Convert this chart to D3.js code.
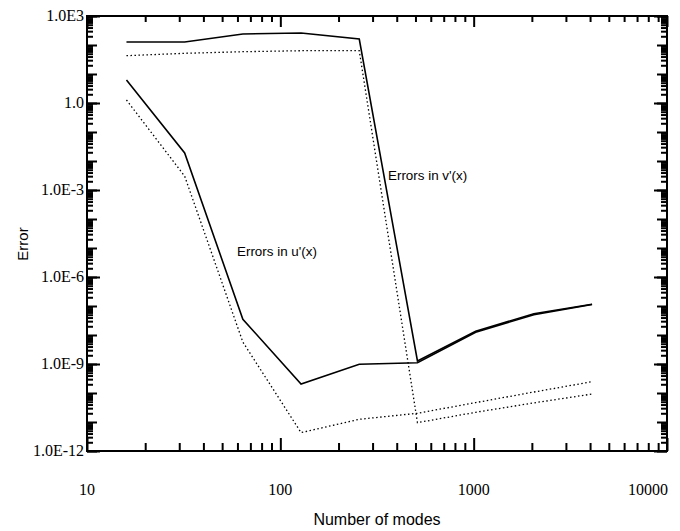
<!DOCTYPE html>
<html><head><meta charset="utf-8">
<script src="https://cdn.jsdelivr.net/npm/d3@7/dist/d3.min.js"></script>
<style>body{margin:0;background:#fff}</style>
</head><body>
<div id="chart"></div>
<script>
const modes = [16, 32, 64, 128, 256, 512, 1024, 2048, 4096];
const vSolid  = [127, 127, 240, 260, 161, 1.27e-9, 1.35e-8, 5.4e-8, 1.15e-7];
const vDotted = [42.8, 51.7, 58.7, 63.5, 63.5, 9.5e-12, 2.16e-11, 4.56e-11, 9.2e-11];
const uSolid  = [6.2, 0.0189, 3.5e-8, 2.04e-10, 9.8e-10, 1.1e-9, 1.25e-8, 5.0e-8, 1.13e-7];
const uDotted = [1.27, 0.003, 5.7e-9, 4.3e-12, 1.24e-11, 2.0e-11, 4.67e-11, 1.08e-10, 2.45e-10];
const xTickVals = [10, 100, 1000, 10000];
const xTickLabels = ["10", "100", "1000", "10000"];
const yTickVals = [1e3, 1, 1e-3, 1e-6, 1e-9, 1e-12];
const yTickLabels = ["1.0E3", "1.0", "1.0E-3", "1.0E-6", "1.0E-9", "1.0E-12"];
const series = [
  {name: "vSolid", values: vSolid, dash: null},
  {name: "vDotted", values: vDotted, dash: "1.5,2.5"},
  {name: "uSolid", values: uSolid, dash: null},
  {name: "uDotted", values: uDotted, dash: "1.5,2.5"}
];

const svg = d3.select("#chart").append("svg").attr("width", 680).attr("height", 531)
  .style("display", "block");
const L = 87, R = 667, T = 16, B = 451;
const x = d3.scaleLog().domain([10, 10000]).range([L, R]);
const y = d3.scaleLog().domain([1e-12, 1e3]).range([B, T]);

const xMinor = [];
for (let d = 10; d < 10000; d *= 10) for (let k = 2; k <= 9; k++) xMinor.push(d * k);
const yMinor = [];
for (let e = -12; e < 3; e++) for (let k = 2; k <= 9; k++) yMinor.push(k * Math.pow(10, e));
const yDecade = [];
for (let e = -12; e <= 3; e++) yDecade.push(Math.pow(10, e));

// axes built with d3 axis generators, inward ticks
function styleAxis(sel) {
  sel.select(".domain").remove();
  sel.selectAll(".tick text").remove();
  sel.selectAll(".tick line").attr("stroke", "#000").attr("stroke-width", 2);
}
const axes = [
  [d3.axisTop(x).tickValues(xMinor).tickSize(8), `translate(0,${B})`],
  [d3.axisTop(x).tickValues(xTickVals).tickSize(13), `translate(0,${B})`],
  [d3.axisBottom(x).tickValues(xMinor).tickSize(6), `translate(0,${T})`],
  [d3.axisBottom(x).tickValues(xTickVals).tickSize(11), `translate(0,${T})`],
  [d3.axisRight(y).tickValues(yMinor).tickSize(6), `translate(${L},0)`],
  [d3.axisRight(y).tickValues(yDecade).tickSize(10), `translate(${L},0)`],
  [d3.axisRight(y).tickValues(yTickVals).tickSize(13), `translate(${L},0)`],
  [d3.axisLeft(y).tickValues(yMinor).tickSize(6), `translate(${R},0)`],
  [d3.axisLeft(y).tickValues(yDecade).tickSize(10), `translate(${R},0)`],
  [d3.axisLeft(y).tickValues(yTickVals).tickSize(13), `translate(${R},0)`]
];
axes.forEach(([ax, tr]) => {
  svg.append("g").attr("transform", tr).call(ax).call(styleAxis);
});

// frame
svg.append("path")
  .attr("d", `M${L},${T}H${R}V${B}H${L}Z`)
  .attr("fill", "none").attr("stroke", "#000").attr("stroke-width", 2);

const serif = "Liberation Serif, Times New Roman, serif";
svg.append("g").selectAll("text").data(xTickVals).join("text")
  .attr("x", d => x(d)).attr("y", 495)
  .attr("text-anchor", (d, i) => i === xTickVals.length - 1 ? "end" : "middle")
  .attr("dx", (d, i) => i === xTickVals.length - 1 ? 1 : 0)
  .attr("font-family", serif).attr("font-size", 16).attr("fill", "#000")
  .text((d, i) => xTickLabels[i]);
svg.append("g").selectAll("text").data(yTickVals).join("text")
  .attr("x", L - 3).attr("y", d => y(d) + 5)
  .attr("text-anchor", "end")
  .attr("font-family", serif).attr("font-size", 16).attr("fill", "#000")
  .text((d, i) => yTickLabels[i]);

const line = d3.line().x((d, i) => x(modes[i])).y(d => y(d));
series.forEach(s => {
  svg.append("path").datum(s.values).attr("d", line)
    .attr("fill", "none").attr("stroke", "#000")
    .attr("stroke-width", s.dash ? 1.3 : 1.6)
    .attr("stroke-dasharray", s.dash);
});

const sans = "Liberation Sans, Arial, Helvetica, sans-serif";
svg.append("text").attr("x", 388).attr("y", 180).text("Errors in v'(x)")
  .attr("font-family", sans).attr("font-size", 13.4).attr("fill", "#000");
svg.append("text").attr("x", 237).attr("y", 256).text("Errors in u'(x)")
  .attr("font-family", sans).attr("font-size", 13.4).attr("fill", "#000");
svg.append("text").attr("transform", "translate(28,244) rotate(-90)")
  .attr("text-anchor", "middle").text("Error").attr("fill", "#000")
  .attr("font-family", sans).attr("font-size", 15);
svg.append("text").attr("x", 377).attr("y", 525).attr("text-anchor", "middle")
  .text("Number of modes").attr("fill", "#000")
  .attr("font-family", sans).attr("font-size", 16);
</script>
</body></html>
